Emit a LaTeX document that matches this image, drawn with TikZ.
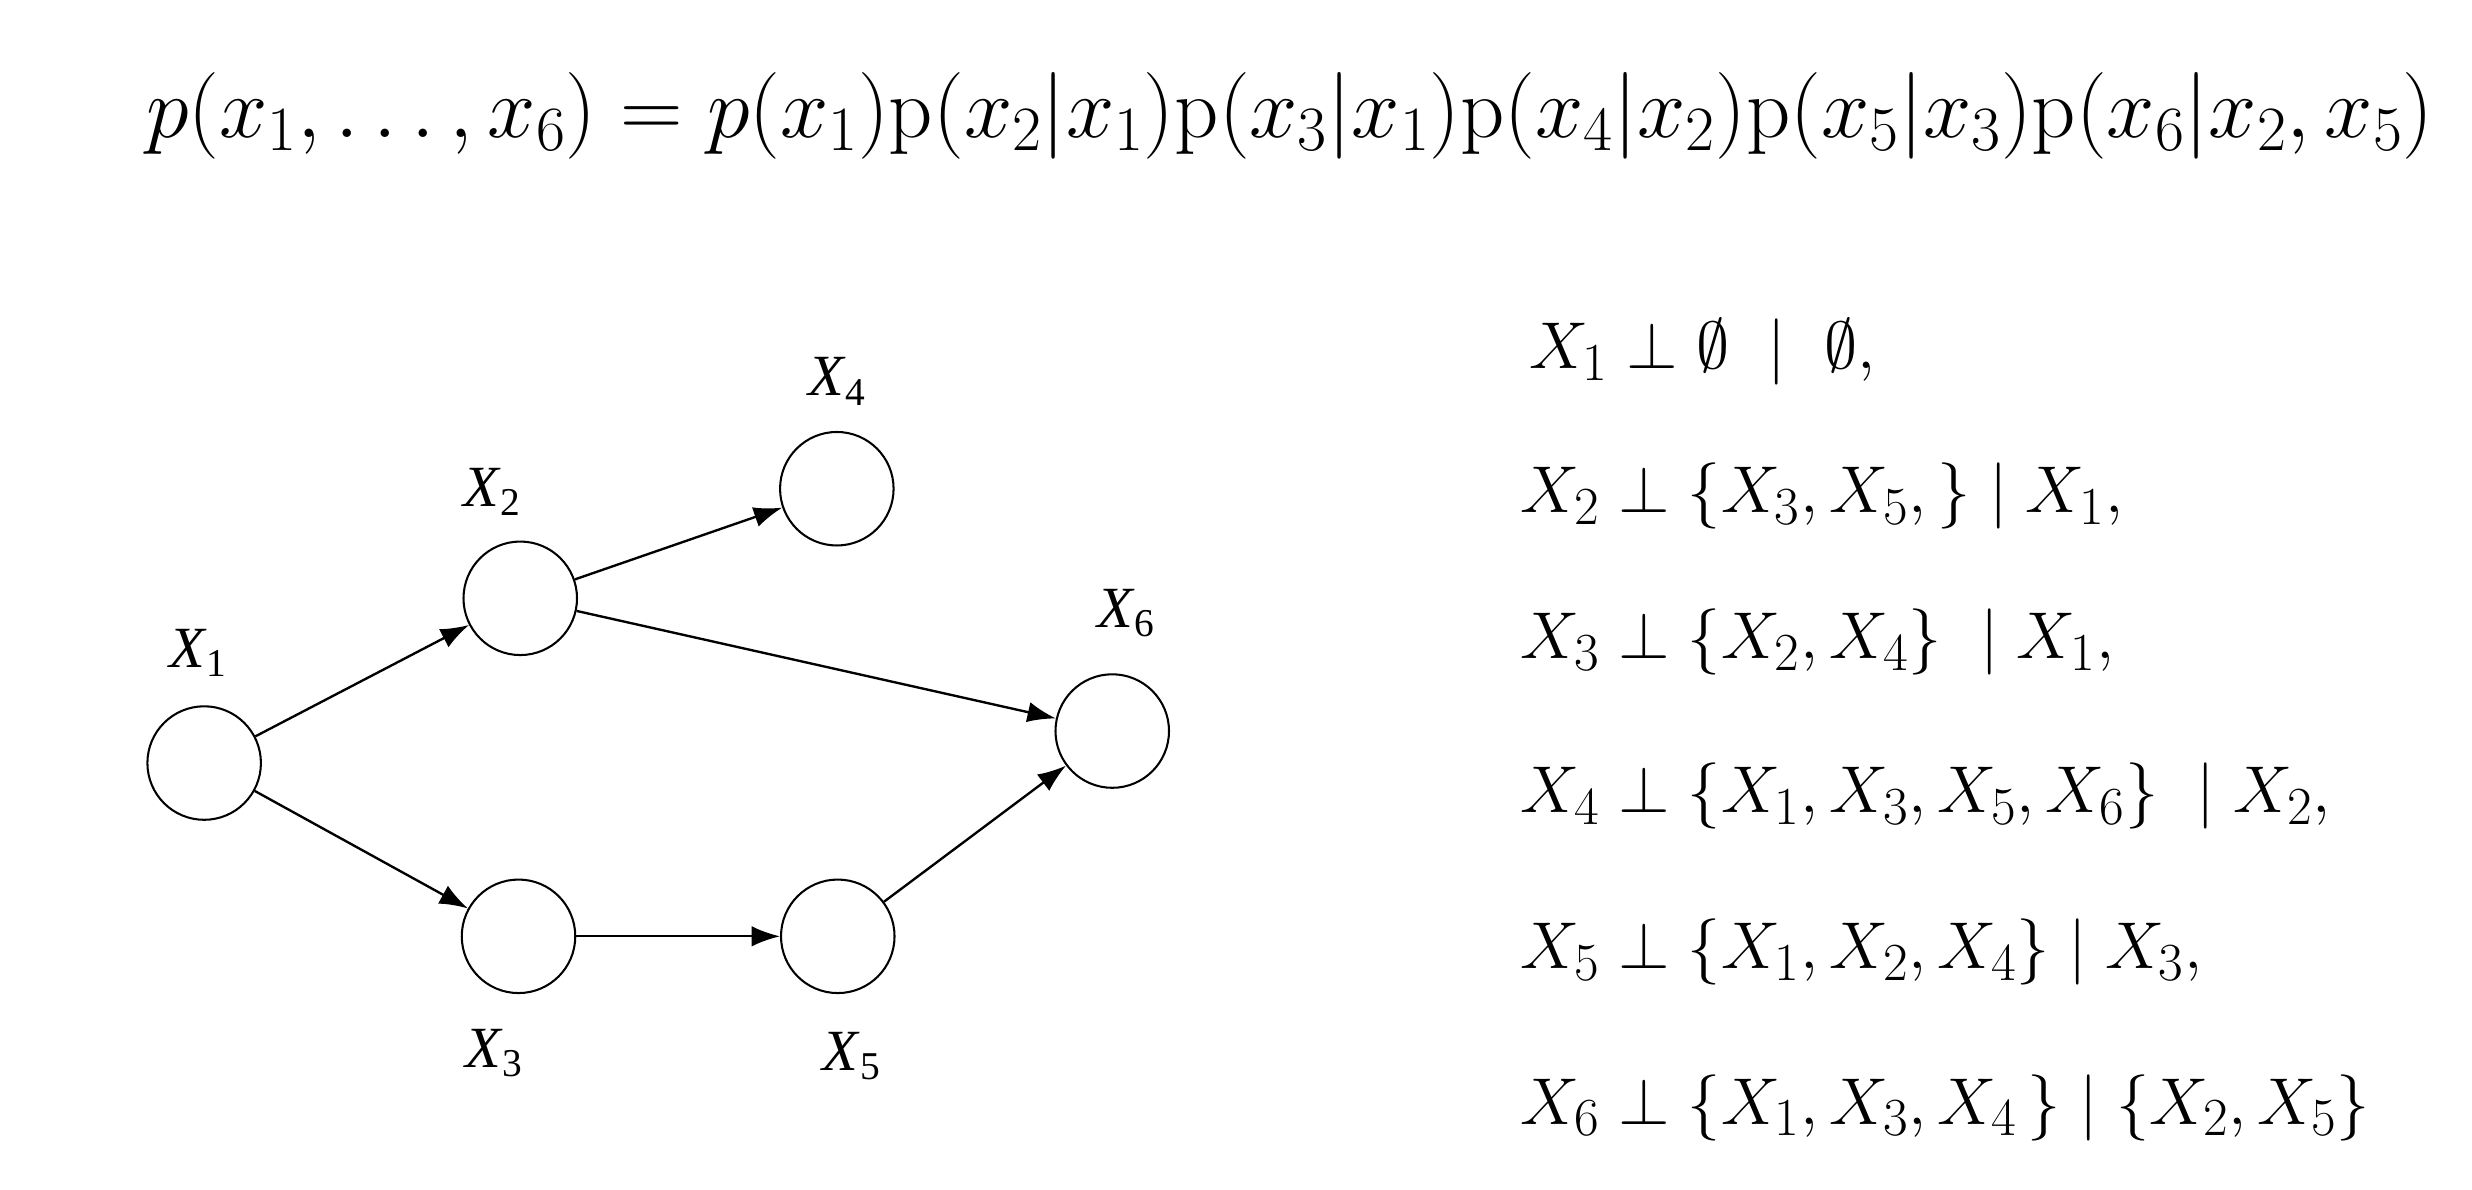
\RequirePackage{fix-cm}
\documentclass[tikz,border=0pt]{standalone}
\usepackage{fontspec}
\newfontfamily\labfont{Liberation Serif}[ItalicFont={Liberation Serif Italic}]
\usetikzlibrary{arrows.meta}
\DeclareMathSizes{42}{42}{34}{27}
\DeclareMathSizes{55}{55}{40}{30}
\newcommand{\glab}[1]{{\labfont\fontsize{37}{42}\selectfont\itshape X\kern1pt\raisebox{-6pt}{\fontsize{25}{28}\selectfont\upshape #1}}}
\tikzset{
  var/.style={circle,draw,line width=1.3pt,minimum size=72pt,inner sep=0pt},
  lab/.style={inner sep=0pt,anchor=center},
  arr/.style={line width=1.5pt,-{Latex[length=18pt,width=13pt]}},
  eq/.style={inner sep=0pt,anchor=base west,font=\fontsize{42}{50}\selectfont},
  topeq/.style={inner sep=0pt,anchor=base west,font=\fontsize{55}{64}\selectfont}
}
\begin{document}
\begin{tikzpicture}[x=1pt,y=-1pt]
\useasboundingbox[fill=white] (0,0) rectangle (1568,754.8);
% joint factorisation
\node[topeq] (fact) at (92.6,87) {$p(x_1,\ldots,x_6)=p(x_1)\mathrm{p}(x_2|x_1)\mathrm{p}(x_3|x_1)\mathrm{p}(x_4|x_2)\mathrm{p}(x_5|x_3)\mathrm{p}(x_6|x_2,x_5)$};
% graph nodes
\node[var] (n1) at (129.5,484) {};
\node[var] (n2) at (330,379.5) {};
\node[var] (n4) at (530.8,310) {};
\node[var] (n6) at (705.5,463.7) {};
\node[var] (n3) at (328.9,593.9) {};
\node[var] (n5) at (531.4,593.9) {};
% labels
\node[lab] (l1) at (125.5,414) {\glab{1}};
\node[lab] (l2) at (312,312) {\glab{2}};
\node[lab] (l4) at (531,242) {\glab{4}};
\node[lab] (l6) at (714,389) {\glab{6}};
\node[lab] (l3) at (313,668) {\glab{3}};
\node[lab] (l5) at (540,670) {\glab{5}};
% edges
\draw[arr] (n1) -- (n2);
\draw[arr] (n1) -- (n3);
\draw[arr] (n2) -- (n4);
\draw[arr] (n2) -- (n6);
\draw[arr] (n3) -- (n5);
\draw[arr] (n5) -- (n6);
% independences
\node[eq] (c1) at (969.7,234) {$X_1\perp\emptyset\ \mid\ \emptyset,$};
\node[eq] (c2) at (964.3,325) {$X_2\perp\{X_3,X_5,\}\mid X_1,$};
\node[eq] (c3) at (964.3,418) {$X_3\perp\{X_2,X_4\}\ \mid X_1,$};
\node[eq] (c4) at (964.3,515.5) {$X_4\perp\{X_1,X_3,X_5,X_6\}\ \mid X_2,$};
\node[eq] (c5) at (964.3,614.5) {$X_5\perp\{X_1,X_2,X_4\}\mid X_3,$};
\node[eq] (c6) at (964.3,713) {$X_6\perp\{X_1,X_3,X_4\,\}\mid\{X_2,X_5\}$};
\end{tikzpicture}
\end{document}
